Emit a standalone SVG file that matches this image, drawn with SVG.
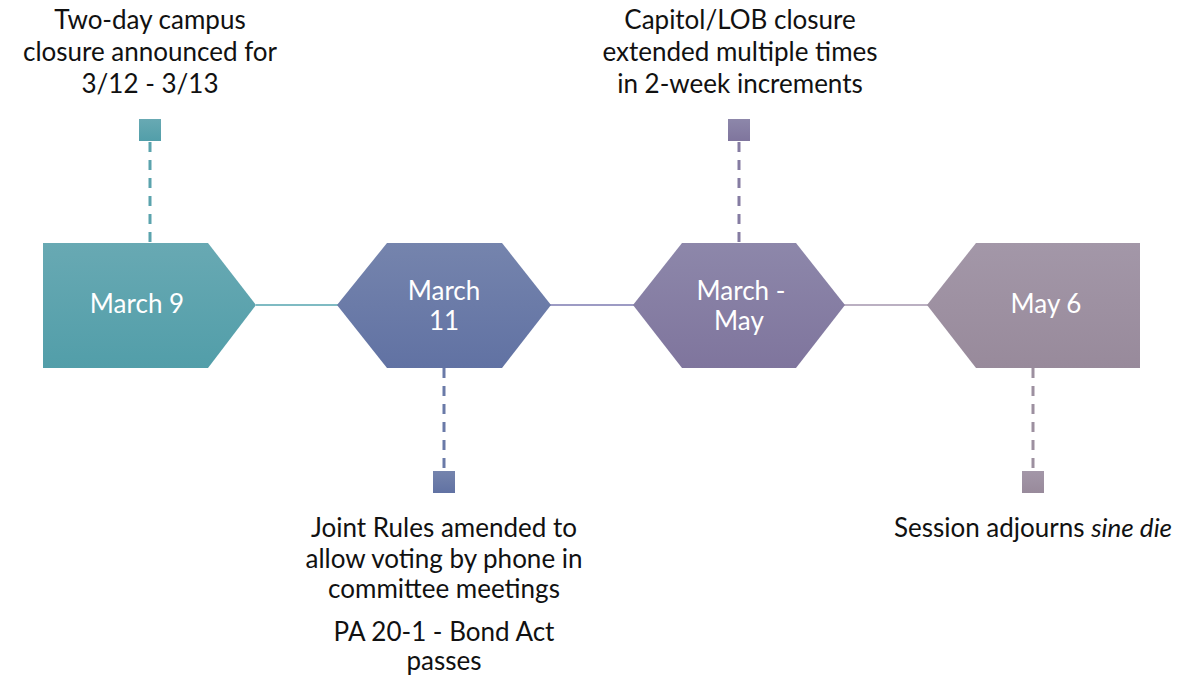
<svg xmlns="http://www.w3.org/2000/svg" width="1204" height="679" viewBox="0 0 1204 679">
<defs>
<linearGradient id="g1" x1="0" y1="0" x2="0" y2="1"><stop offset="0" stop-color="#68a9b3"/><stop offset="1" stop-color="#529ea9"/></linearGradient>
<linearGradient id="g2" x1="0" y1="0" x2="0" y2="1"><stop offset="0" stop-color="#7584ad"/><stop offset="1" stop-color="#6172a3"/></linearGradient>
<linearGradient id="g3" x1="0" y1="0" x2="0" y2="1"><stop offset="0" stop-color="#8d87aa"/><stop offset="1" stop-color="#7f759d"/></linearGradient>
<linearGradient id="g4" x1="0" y1="0" x2="0" y2="1"><stop offset="0" stop-color="#a397a8"/><stop offset="1" stop-color="#988a9b"/></linearGradient>
<style>
.lbl{font-family:"Lato","Open Sans","Liberation Sans",sans-serif;font-size:26px;fill:#111;text-anchor:middle}
.in{font-family:"Lato","Open Sans","Liberation Sans",sans-serif;font-size:26px;fill:#fff;text-anchor:middle}
.dash{stroke-width:3;stroke-dasharray:10 8;fill:none}
.conn{stroke-width:2;fill:none}
</style>
</defs>
<rect width="1204" height="679" fill="#fff"/>
<g id="connectors">
<line class="conn" x1="256" y1="305" x2="338" y2="305" stroke="#7fbbc3"/>
<line class="conn" x1="550" y1="305" x2="634" y2="305" stroke="#9d9bc4"/>
<line class="conn" x1="844" y1="305" x2="928" y2="305" stroke="#bbb0c2"/>
<line class="dash" x1="150" y1="142" x2="150" y2="243" stroke="#5ba3ad"/>
<line class="dash" x1="444" y1="368" x2="444" y2="471" stroke="#6a7aa8"/>
<line class="dash" x1="739" y1="142" x2="739" y2="243" stroke="#857ca2"/>
<line class="dash" x1="1033" y1="368" x2="1033" y2="471" stroke="#9d90a0"/>
</g>
<g id="node1">
<polygon points="43,243 208,243 256,305 208,368 43,368" fill="url(#g1)"/>
<text class="in" x="137" y="313">March 9</text>
<rect x="139" y="119" width="22" height="22" fill="url(#g1)"/>
<text class="lbl" x="150" y="29">Two-day campus</text>
<text class="lbl" x="150" y="61">closure announced for</text>
<text class="lbl" x="150" y="93">3/12 - 3/13</text>
</g>
<g id="node2">
<polygon points="337,305 387,243 502,243 551,305 502,368 387,368" fill="url(#g2)"/>
<text class="in" x="444" y="300">March</text>
<text class="in" x="444" y="330">11</text>
<rect x="433" y="471" width="22" height="22" fill="url(#g2)"/>
<text class="lbl" x="444" y="537">Joint Rules amended to</text>
<text class="lbl" x="444" y="568">allow voting by phone in</text>
<text class="lbl" x="444" y="598">committee meetings</text>
<text class="lbl" x="444" y="641">PA 20-1 - Bond Act</text>
<text class="lbl" x="444" y="670">passes</text>
</g>
<g id="node3">
<polygon points="633,305 682,243 796,243 845,305 796,368 682,368" fill="url(#g3)"/>
<text class="in" x="741" y="300">March -</text>
<text class="in" x="739" y="330">May</text>
<rect x="728" y="119" width="22" height="22" fill="url(#g3)"/>
<text class="lbl" x="740" y="29">Capitol/LOB closure</text>
<text class="lbl" x="740" y="61">extended multiple times</text>
<text class="lbl" x="740" y="93">in 2-week increments</text>
</g>
<g id="node4">
<polygon points="927,305 976,243 1140,243 1140,368 976,368" fill="url(#g4)"/>
<text class="in" x="1046" y="313">May 6</text>
<rect x="1022" y="471" width="22" height="22" fill="url(#g4)"/>
<text class="lbl" x="1033" y="537">Session adjourns <tspan font-style="italic">sine die</tspan></text>
</g>
</svg>
